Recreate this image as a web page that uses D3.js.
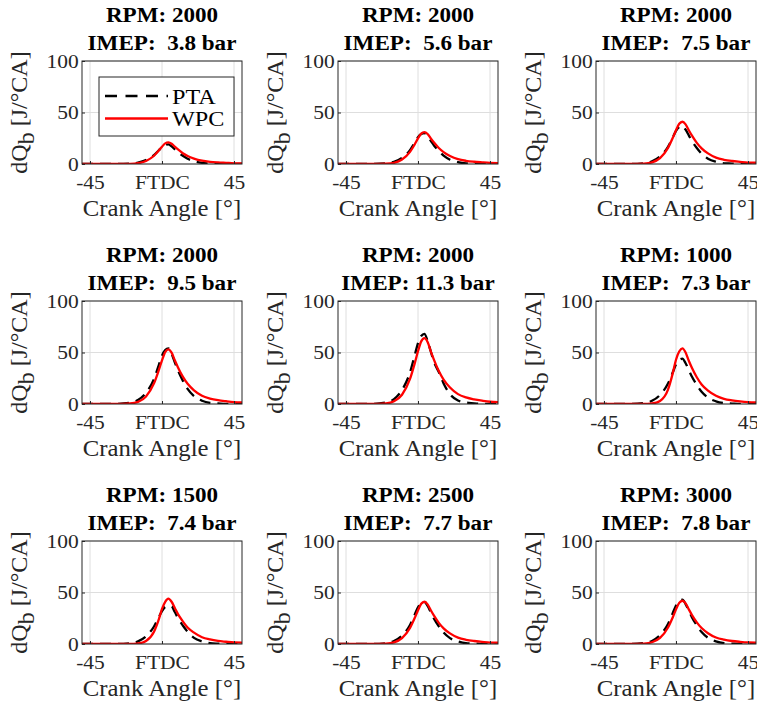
<!DOCTYPE html>
<html><head><meta charset="utf-8">
<script src="https://cdn.jsdelivr.net/npm/d3@7"></script>
<style>body{margin:0;background:#fff} svg{display:block}</style>
</head><body>
<svg id="c" width="757" height="707"></svg>
<script>
const angles = [-50,-30,-20,-15,-10,-5,-2,0,2,4,6,8,10,13,16,20,25,30,35,40,45,50];
const rpmValues = [2000,2000,2000,2000,2000,1000,1500,2500,3000];
const imepValues = ["3.8","5.6","7.5","9.5","11.3","7.3","7.4","7.7","7.8"];
const xTickValues = [-45,0,45];
const xTickLabels = ["-45","FTDC","45"];
const yTickValues = [0,50,100];
const seriesNames = ["PTA","WPC"];

const pta1 = [0,0,0.4,1.3,3.8,8.6,13.3,16.5,18.4,19,17.1,14.3,11.4,8,5.1,2.7,1.1,0.4,0.2,0,0,0];
const wpc1 = [0,0,0.2,0.8,2.9,8.0,13.0,16.8,20,21,19.7,16.8,14.1,10.5,7.8,5.3,3.2,2.1,1.5,1.1,0.7,0.6];
const pta2 = [0,0,0.6,2.1,6,13.5,21,26.1,29.1,30,27,22.5,18,12.6,8.1,4.2,1.8,0.6,0.3,0,0,0];
const wpc2 = [0,0,0.3,1.2,4.3,11.8,19.2,24.8,29.5,31,29.1,24.8,20.8,15.5,11.5,7.8,4.7,3.1,2.2,1.6,1.1,0.9];
const pta3 = [0,0,0.7,2.6,7.4,16.7,25.9,32.2,35.9,37,33.3,27.8,22.2,15.5,10,5.2,2.2,0.7,0.4,0,0,0];
const wpc3 = [0,0,0.4,1.6,5.7,15.6,25.4,32.8,39,41,38.5,32.8,27.5,20.5,15.2,10.3,6.2,4.1,2.9,2.1,1.4,1.2];
const pta4 = [0,0,1.1,3.8,10.8,24.3,37.8,47,52.4,54,48.6,40.5,32.4,22.7,14.6,7.6,3.2,1.1,0.5,0,0,0];
const wpc4 = [0,0,0.5,2.1,7.4,20.1,32.9,42.4,50.4,53,49.8,42.4,35.5,26.5,19.6,13.3,8,5.3,3.7,2.7,1.9,1.6];
const pta5 = [0,0,1.4,4.8,13.6,30.6,47.6,59.2,66,68,61.2,51,40.8,31,20,9.5,3.4,1.4,0.7,0,0,0];
const wpc5 = [0,0,0.6,2.6,9,24.3,39.7,51.2,60.8,64,60.2,51.2,42.9,32,23.7,16,9.6,6.4,4.5,3.2,2.2,1.9];
const pta6 = [0,0,0.9,3.1,8.8,19.8,30.8,38.3,42.7,44,39.6,33,26.4,18.5,11.9,6.2,2.6,0.9,0.4,0,0,0];
const wpc6 = [0,0,0,0.5,3,14,30,43,51,54,50,42,35,26,19,13,8,5,3.5,2.5,1.8,1.5];
const pta7 = [0,0,0.7,2.6,7.4,17,26,32,36,37,36.5,31,25,18,12,6,2.5,0.8,0.3,0,0,0];
const wpc7 = [0,0,0,0.5,3,12,24,34,41,44,41,35,29,22,16,11,6.6,4.4,3,2.2,1.5,1.3];
const pta8 = [0,0,0.8,2.9,8.2,18.5,28.7,35.7,39.8,41,36.9,30.8,24.6,17.2,11.1,5.7,2.5,0.8,0.4,0,0,0];
const wpc8 = [0,0,0.4,1.6,5.7,15.6,25.4,32.8,39,41,38.5,32.8,27.5,20.5,15.2,10.3,6.2,4.1,2.9,2.1,1.4,1.2];
const pta9 = [0,0,0.9,3,8.6,19.4,30.1,37.4,41.7,43,38.7,32.3,25.8,18.1,11.6,6,2.6,0.9,0.4,0,0,0];
const wpc9 = [0,0,0.4,1.7,5.9,16,26,33.6,39.9,42,39.5,33.6,28.1,21,15.5,10.5,6.3,4.2,2.9,2.1,1.5,1.3];

const ptaAll = [pta1,pta2,pta3,pta4,pta5,pta6,pta7,pta8,pta9];
const wpcAll = [wpc1,wpc2,wpc3,wpc4,wpc5,wpc6,wpc7,wpc8,wpc9];

const svg = d3.select("#c");
const W = 160, H = 103;
const lefts = [82, 338, 596];
const tops = [61, 301, 541];
const FONT = '"Liberation Serif"';
const axisColor = "#262626";
const SX = 1.1;

const x = d3.scaleLinear().domain([-50,50]).range([0,W]);
const y = d3.scaleLinear().domain([0,100]).range([H,0]);

svg.append("defs").append("clipPath").attr("id","clip")
  .append("rect").attr("x",0).attr("y",0).attr("width",W).attr("height",H);

const line = d3.line().x((d,i)=>x(angles[i])).y(d=>y(d)).curve(d3.curveMonotoneX);

function label(parent, px, py, str, size, opts={}) {
  const t = parent.append("g").attr("transform",`translate(${px},${py}) scale(${SX},1)`)
    .append("text").attr("x",0).attr("y",0)
    .attr("text-anchor", opts.anchor || "middle")
    .attr("fill", opts.fill || "#000")
    .style("font-family",FONT).style("font-size",size+"px");
  if (opts.bold) t.style("font-weight","bold");
  if (opts.dy) t.attr("dy",opts.dy);
  t.text(str);
  return t;
}

for (let p=0; p<9; p++) {
  const col = p % 3, row = Math.floor(p/3);
  const g = svg.append("g").attr("transform",`translate(${lefts[col]},${tops[row]})`);

  g.append("g").selectAll("line").data(xTickValues).join("line")
    .attr("x1",d=>x(d)).attr("x2",d=>x(d)).attr("y1",0).attr("y2",H)
    .attr("stroke","#dedede").attr("stroke-width",1);
  g.append("g").selectAll("line").data(yTickValues).join("line")
    .attr("y1",d=>y(d)).attr("y2",d=>y(d)).attr("x1",0).attr("x2",W)
    .attr("stroke","#dedede").attr("stroke-width",1);

  const cg = g.append("g").attr("clip-path","url(#clip)");
  cg.append("path").attr("d",line(ptaAll[p])).attr("fill","none")
    .attr("stroke","#000").attr("stroke-width",2.3).attr("stroke-dasharray","11,7");
  cg.append("path").attr("d",line(wpcAll[p])).attr("fill","none")
    .attr("stroke","#ff0000").attr("stroke-width",2.3);

  const xa = g.append("g").attr("transform",`translate(0,${H})`)
    .call(d3.axisBottom(x).tickValues(xTickValues).tickFormat((d,i)=>xTickLabels[i]).tickSize(-3).tickPadding(6));
  const ya = g.append("g")
    .call(d3.axisLeft(y).tickValues(yTickValues).tickFormat(d3.format("d")).tickSize(-3).tickPadding(3));
  [xa,ya].forEach(a=>{
    a.attr("font-family",null).attr("font-size",null);
    a.select(".domain").remove();
    a.selectAll("line").attr("stroke",axisColor);
    a.selectAll("text").attr("fill",axisColor).style("font-family",FONT).style("font-size","19.5px")
      .attr("transform",`scale(${SX},1)`);
  });
  xa.selectAll("text").attr("y",25).attr("dy",null);
  g.append("rect").attr("width",W).attr("height",H).attr("fill","none")
    .attr("stroke",axisColor).attr("stroke-width",1);

  label(g, W/2, -39, `RPM: ${rpmValues[p]}`, 21, {bold:true});
  const imepStr = imepValues[p].length < 4 ? `IMEP:\u00a0\u00a0${imepValues[p]} bar` : `IMEP: ${imepValues[p]} bar`;
  label(g, W/2, -11, imepStr, 21, {bold:true});

  label(g, W/2, H+52, "Crank Angle [°]", 22.5, {fill:axisColor});

  const yl = g.append("text").attr("transform",`translate(-55,${H/2}) rotate(-90)`)
    .attr("text-anchor","middle").attr("fill",axisColor)
    .style("font-family",FONT).style("font-size","24px");
  yl.append("tspan").text("dQ");
  yl.append("tspan").attr("dy",7).text("b");
  yl.append("tspan").attr("dy",-7).text("\u00a0[J/°CA]");

  if (p === 0) {
    const lg = g.append("g");
    lg.append("rect").attr("x",17).attr("y",16).attr("width",135).attr("height",59)
      .attr("fill","#fff").attr("stroke",axisColor).attr("stroke-width",1);
    const ly = [35, 57.5];
    seriesNames.forEach((s,i)=>{
      lg.append("line").attr("x1",23).attr("x2",86).attr("y1",ly[i]).attr("y2",ly[i])
        .attr("stroke", i===0 ? "#000" : "#ff0000").attr("stroke-width",2.3)
        .attr("stroke-dasharray", i===0 ? "12,8.5" : null);
      label(lg, 90, ly[i], s, 22, {anchor:"start", dy:"0.35em"});
    });
  }
}
</script>
</body></html>
